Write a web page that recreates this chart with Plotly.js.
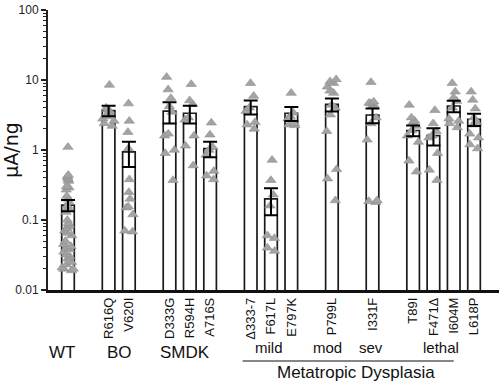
<!DOCTYPE html>
<html>
<head>
<meta charset="utf-8">
<script src="https://cdn.plot.ly/plotly-3.0.1.min.js"></script>
<style>html,body{margin:0;padding:0;background:#fff;}#chart{width:499px;height:385px;}</style>
</head>
<body>
<div id="chart"></div>
<script>
// ---- data ----
const categories = ['WT','R616Q','V620I','D333G','R594H','A716S','\u0394333-7','F617L','E797K','P799L','I331F','T89I','F471\u0394','I604M','L618P'];
const tickLabels = ['','R616Q','V620I','D333G','R594H','A716S','\u0394333-7','F617L','E797K','P799L','I331F','T89I','F471\u0394','I604M','L618P'];
const means = [0.163, 3.65, 0.94, 3.6, 3.35, 1.05, 4.16, 0.2, 3.35, 4.5, 3.16, 1.9, 1.6, 4.25, 2.75];
const sems  = [0.03, 0.62, 0.37, 1.2, 0.95, 0.26, 0.95, 0.083, 0.75, 0.95, 0.75, 0.33, 0.44, 0.8, 0.55];

const ptsWT    = [1.1, 0.44, 0.42, 0.4, 0.38, 0.36, 0.3, 0.29, 0.27, 0.22, 0.2, 0.18, 0.16, 0.15, 0.13, 0.1, 0.09, 0.085, 0.08, 0.075, 0.07, 0.065, 0.06, 0.05, 0.045, 0.042, 0.04, 0.038, 0.035, 0.032, 0.03, 0.028, 0.025, 0.023, 0.021, 0.02, 0.02, 0.019];
const ptsR616Q = [8.5, 4.0, 3.8, 3.6, 3.4, 3.2, 3.0, 2.8, 2.6, 2.4, 2.2];
const ptsV620I = [4.6, 2.6, 1.8, 1.05, 0.38, 0.25, 0.2, 0.155, 0.15, 0.12, 0.07, 0.068];
const ptsD333G = [11, 7.3, 5.5, 4.2, 3.5, 1.7, 1.6, 1.0, 0.9, 0.37];
const ptsR594H = [8.7, 5.1, 4.5, 2.9, 2.7, 1.6, 1.15, 0.6];
const ptsA716S = [2.45, 1.65, 1.1, 1.0, 0.85, 0.5, 0.43, 0.38];
const ptsD3337 = [9.0, 5.9, 4.0, 3.6, 2.5, 2.3, 2.0];
const ptsF617L = [0.72, 0.37, 0.23, 0.16, 0.06, 0.055, 0.04, 0.036];
const ptsE797K = [6.5, 3.4, 3.0, 2.8, 2.4, 2.3, 2.25];
const ptsP799L = [10.2, 9.5, 9.0, 8.0, 7.0, 6.5, 4.4, 4.0, 3.2, 1.85, 0.53, 0.39, 0.19];
const ptsI331F = [9.3, 4.9, 4.7, 4.6, 4.4, 4.2, 2.9, 2.4, 1.4, 0.19, 0.185, 0.18];
const ptsT89I  = [4.4, 2.9, 2.6, 2.5, 2.2, 1.9, 1.6, 1.3, 0.7, 0.49];
const ptsF471D = [3.7, 2.4, 1.85, 1.6, 1.5, 0.9, 0.52, 0.37];
const ptsI604M = [9.0, 6.8, 5.6, 5.0, 4.0, 2.8, 2.6, 2.4, 2.1];
const ptsL618P = [6.8, 5.2, 3.9, 2.9, 2.5, 2.3, 1.7, 1.5, 1.2, 1.05];

const groupNames = ['WT','BO','SMDK'];
const severityNames = ['mild','mod','sev','lethal'];
const diseaseName = 'Metatropic Dysplasia';
const yTitle = '\u00b5A/ng';

// ---- layout constants ----
const slots = [0,2,3,5,6,7,9,10,11,13,15,17,18,19,20];
const groupX = [-0.3, 2.56, 5.74];
const severityX = [9.9, 12.76, 14.93, 18.37];
const allPts = [ptsWT, ptsR616Q, ptsV620I, ptsD333G, ptsR594H, ptsA716S, ptsD3337, ptsF617L, ptsE797K, ptsP799L, ptsI331F, ptsT89I, ptsF471D, ptsI604M, ptsL618P];

const FONT = 'Liberation Sans, Arial, sans-serif';
const traces = [];
traces.push({
  type: 'bar', x: slots, y: means, width: 0.62,
  marker: {color: '#ffffff', line: {color: '#1a1a1a', width: 1.7}},
  hoverinfo: 'skip', showlegend: false
});
allPts.forEach((vals, i) => {
  traces.push({
    type: 'box', x: vals.map(() => slots[i]), y: vals,
    boxpoints: 'all', jitter: 0.9, pointpos: 0, width: 0.75,
    fillcolor: 'rgba(0,0,0,0)', line: {width: 0, color: 'rgba(0,0,0,0)'},
    marker: {symbol: 'triangle-up', size: 9, color: '#a4a4a4', line: {color: '#8e8e8e', width: 0.6}},
    hoverinfo: 'skip', showlegend: false, name: categories[i]
  });
});
traces.push({
  type: 'scatter', mode: 'markers', x: slots, y: means,
  marker: {size: 1, color: 'rgba(0,0,0,0)'},
  error_y: {type: 'data', array: sems, visible: true, color: '#000', thickness: 2, width: 7},
  hoverinfo: 'skip', showlegend: false
});

const annotations = [];
groupNames.forEach((t, i) => annotations.push({
  text: t, x: groupX[i], y: -0.222, xref: 'x', yref: 'paper', showarrow: false,
  xanchor: 'center', yanchor: 'middle', font: {family: FONT, size: 17, color: '#111'}
}));
severityNames.forEach((t, i) => annotations.push({
  text: t, x: severityX[i], y: -0.205, xref: 'x', yref: 'paper', showarrow: false,
  xanchor: 'center', yanchor: 'middle', font: {family: FONT, size: 15, color: '#111'}
}));
annotations.push({
  text: diseaseName, x: 14.19, y: -0.293, xref: 'x', yref: 'paper', showarrow: false,
  xanchor: 'center', yanchor: 'middle', font: {family: FONT, size: 17, color: '#111'}
});

const layout = {
  width: 499, height: 385,
  margin: {l: 48, r: 0, t: 10, b: 95},
  paper_bgcolor: '#fff', plot_bgcolor: '#fff',
  showlegend: false, bargap: 0, boxmode: 'overlay',
  font: {family: FONT, color: '#111'},
  xaxis: {
    range: [-0.985, 21.23], showgrid: false, zeroline: false,
    showline: true, linewidth: 2.5, linecolor: '#111',
    tickmode: 'array', tickvals: slots, ticktext: tickLabels, tickangle: -90,
    ticks: '', tickfont: {family: 'Liberation Sans Narrow, ' + FONT, size: 13, color: '#111'}
  },
  yaxis: {
    type: 'log', range: [-2, 2], showgrid: false, zeroline: false,
    showline: true, linewidth: 2, linecolor: '#222',
    tickmode: 'linear', tick0: 0, dtick: 1, exponentformat: 'none',
    ticks: 'outside', ticklen: 5, tickwidth: 1.5, tickcolor: '#222',
    minor: {dtick: 'D1', ticks: 'outside', ticklen: 3, tickwidth: 1, tickcolor: '#222'},
    tickfont: {family: FONT, size: 12, color: '#222'},
    title: {text: yTitle, font: {family: 'DejaVu Sans, sans-serif', size: 19, color: '#111'}, standoff: 8}
  },
  shapes: [{
    type: 'line', xref: 'x', yref: 'paper', x0: 8.6, x1: 19.0, y0: -0.2536, y1: -0.2536,
    line: {color: '#111', width: 1.2}
  }],
  annotations: annotations
};

Plotly.newPlot('chart', traces, layout, {staticPlot: true, displayModeBar: false});
</script>
</body>
</html>
